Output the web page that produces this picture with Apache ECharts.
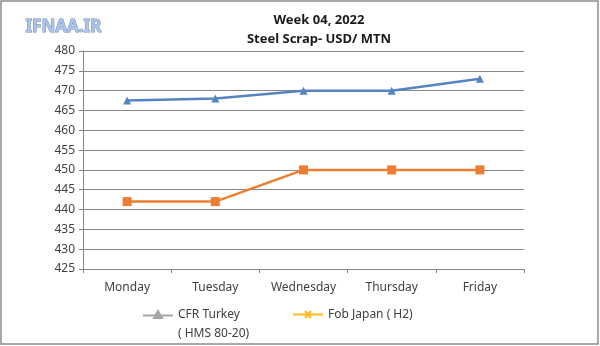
<!DOCTYPE html>
<html>
<head>
<meta charset="utf-8">
<script src="https://cdn.jsdelivr.net/npm/echarts@6/dist/echarts.min.js"></script>
<style>
html,body{margin:0;padding:0;background:#fff;}
#chart{width:600px;height:346px;}
</style>
</head>
<body>
<div id="chart"></div>
<script>
const categories = ['Monday', 'Tuesday', 'Wednesday', 'Thursday', 'Friday'];
const cfrTurkey = [467.5, 468, 470, 470, 473];
const fobJapan = [442, 442, 450, 450, 450];
const seriesNames = ['CFR Turkey\n( HMS 80-20)', 'Fob Japan ( H2)'];
const titleLines = ['Week 04, 2022', 'Steel Scrap- USD/ MTN'];
const watermark = 'IFNAA.IR';

const FONT = '"Noto Sans", "Liberation Sans", sans-serif';
const chart = echarts.init(document.getElementById('chart'), null, {renderer: 'canvas'});

chart.setOption({
  animation: false,
  backgroundColor: '#ffffff',
  title: {
    text: titleLines.join('\n'),
    left: 314,
    textAlign: 'center',
    top: 6,
    textStyle: {fontFamily: FONT, fontSize: 13, fontWeight: 'bold', color: '#1a1a1a', lineHeight: 19}
  },
  grid: {left: 83, right: 76, top: 51, bottom: 77, containLabel: false},
  xAxis: {
    type: 'category',
    data: categories,
    boundaryGap: true,
    axisLine: {lineStyle: {color: '#868686', width: 1}},
    axisTick: {show: true, length: 4, alignWithLabel: false, lineStyle: {color: '#868686'}},
    axisLabel: {fontFamily: FONT, fontSize: 12, color: '#404040', margin: 13},
    splitLine: {show: false}
  },
  yAxis: {
    type: 'value',
    min: 425,
    max: 480,
    interval: 5,
    axisLine: {show: true, lineStyle: {color: '#868686', width: 1}},
    axisTick: {show: true, length: 4, lineStyle: {color: '#868686'}},
    axisLabel: {fontFamily: FONT, fontSize: 12, color: '#404040', margin: 8},
    splitLine: {show: true, lineStyle: {color: '#868686', width: 1}}
  },
  legend: [
    {
      data: [seriesNames[0]],
      left: 137,
      top: 281,
      orient: 'horizontal',
      itemWidth: 30,
      itemHeight: 7,
      itemGap: 4,
      icon: 'path://M0,4.5L30,4.5M15,0L19,7L11,7Z',
      formatter: function (name) { return '\n' + name; },
      itemStyle: {color: '#a6a6a6', borderColor: '#a6a6a6', borderWidth: 2},
      textStyle: {fontFamily: FONT, fontSize: 12, color: '#404040', lineHeight: 19}
    },
    {
      data: [seriesNames[1]],
      left: 287,
      top: 300,
      itemWidth: 30,
      itemHeight: 7,
      itemGap: 4,
      icon: 'path://M0,3.5L30,3.5M12,0L18,7M18,0L12,7',
      itemStyle: {color: '#fbbc1c', borderColor: '#fbbc1c', borderWidth: 2},
      textStyle: {fontFamily: FONT, fontSize: 12, color: '#404040', lineHeight: 19}
    }
  ],
  series: [
    {
      name: seriesNames[0],
      type: 'line',
      data: cfrTurkey,
      symbol: 'triangle',
      symbolSize: 8,
      lineStyle: {color: '#5585c0', width: 2.5},
      itemStyle: {color: '#5585c0'}
    },
    {
      name: seriesNames[1],
      type: 'line',
      data: fobJapan,
      symbol: 'rect',
      symbolSize: 9,
      lineStyle: {color: '#ed7d31', width: 2.5},
      itemStyle: {color: '#ed7d31'}
    }
  ],
  graphic: [
    {
      type: 'rect',
      shape: {x: 1, y: 1, width: 597, height: 343},
      style: {fill: 'none', stroke: '#8c8c8c', lineWidth: 1.5},
      silent: true
    },
    {
      type: 'text',
      left: 25,
      top: 18,
      style: {
        text: watermark,
        font: 'bold 17px ' + FONT,
        fill: '#a9c5ee',
        stroke: '#7d8ea8',
        lineWidth: 1
      },
      silent: true
    }
  ]
});
</script>
</body>
</html>
